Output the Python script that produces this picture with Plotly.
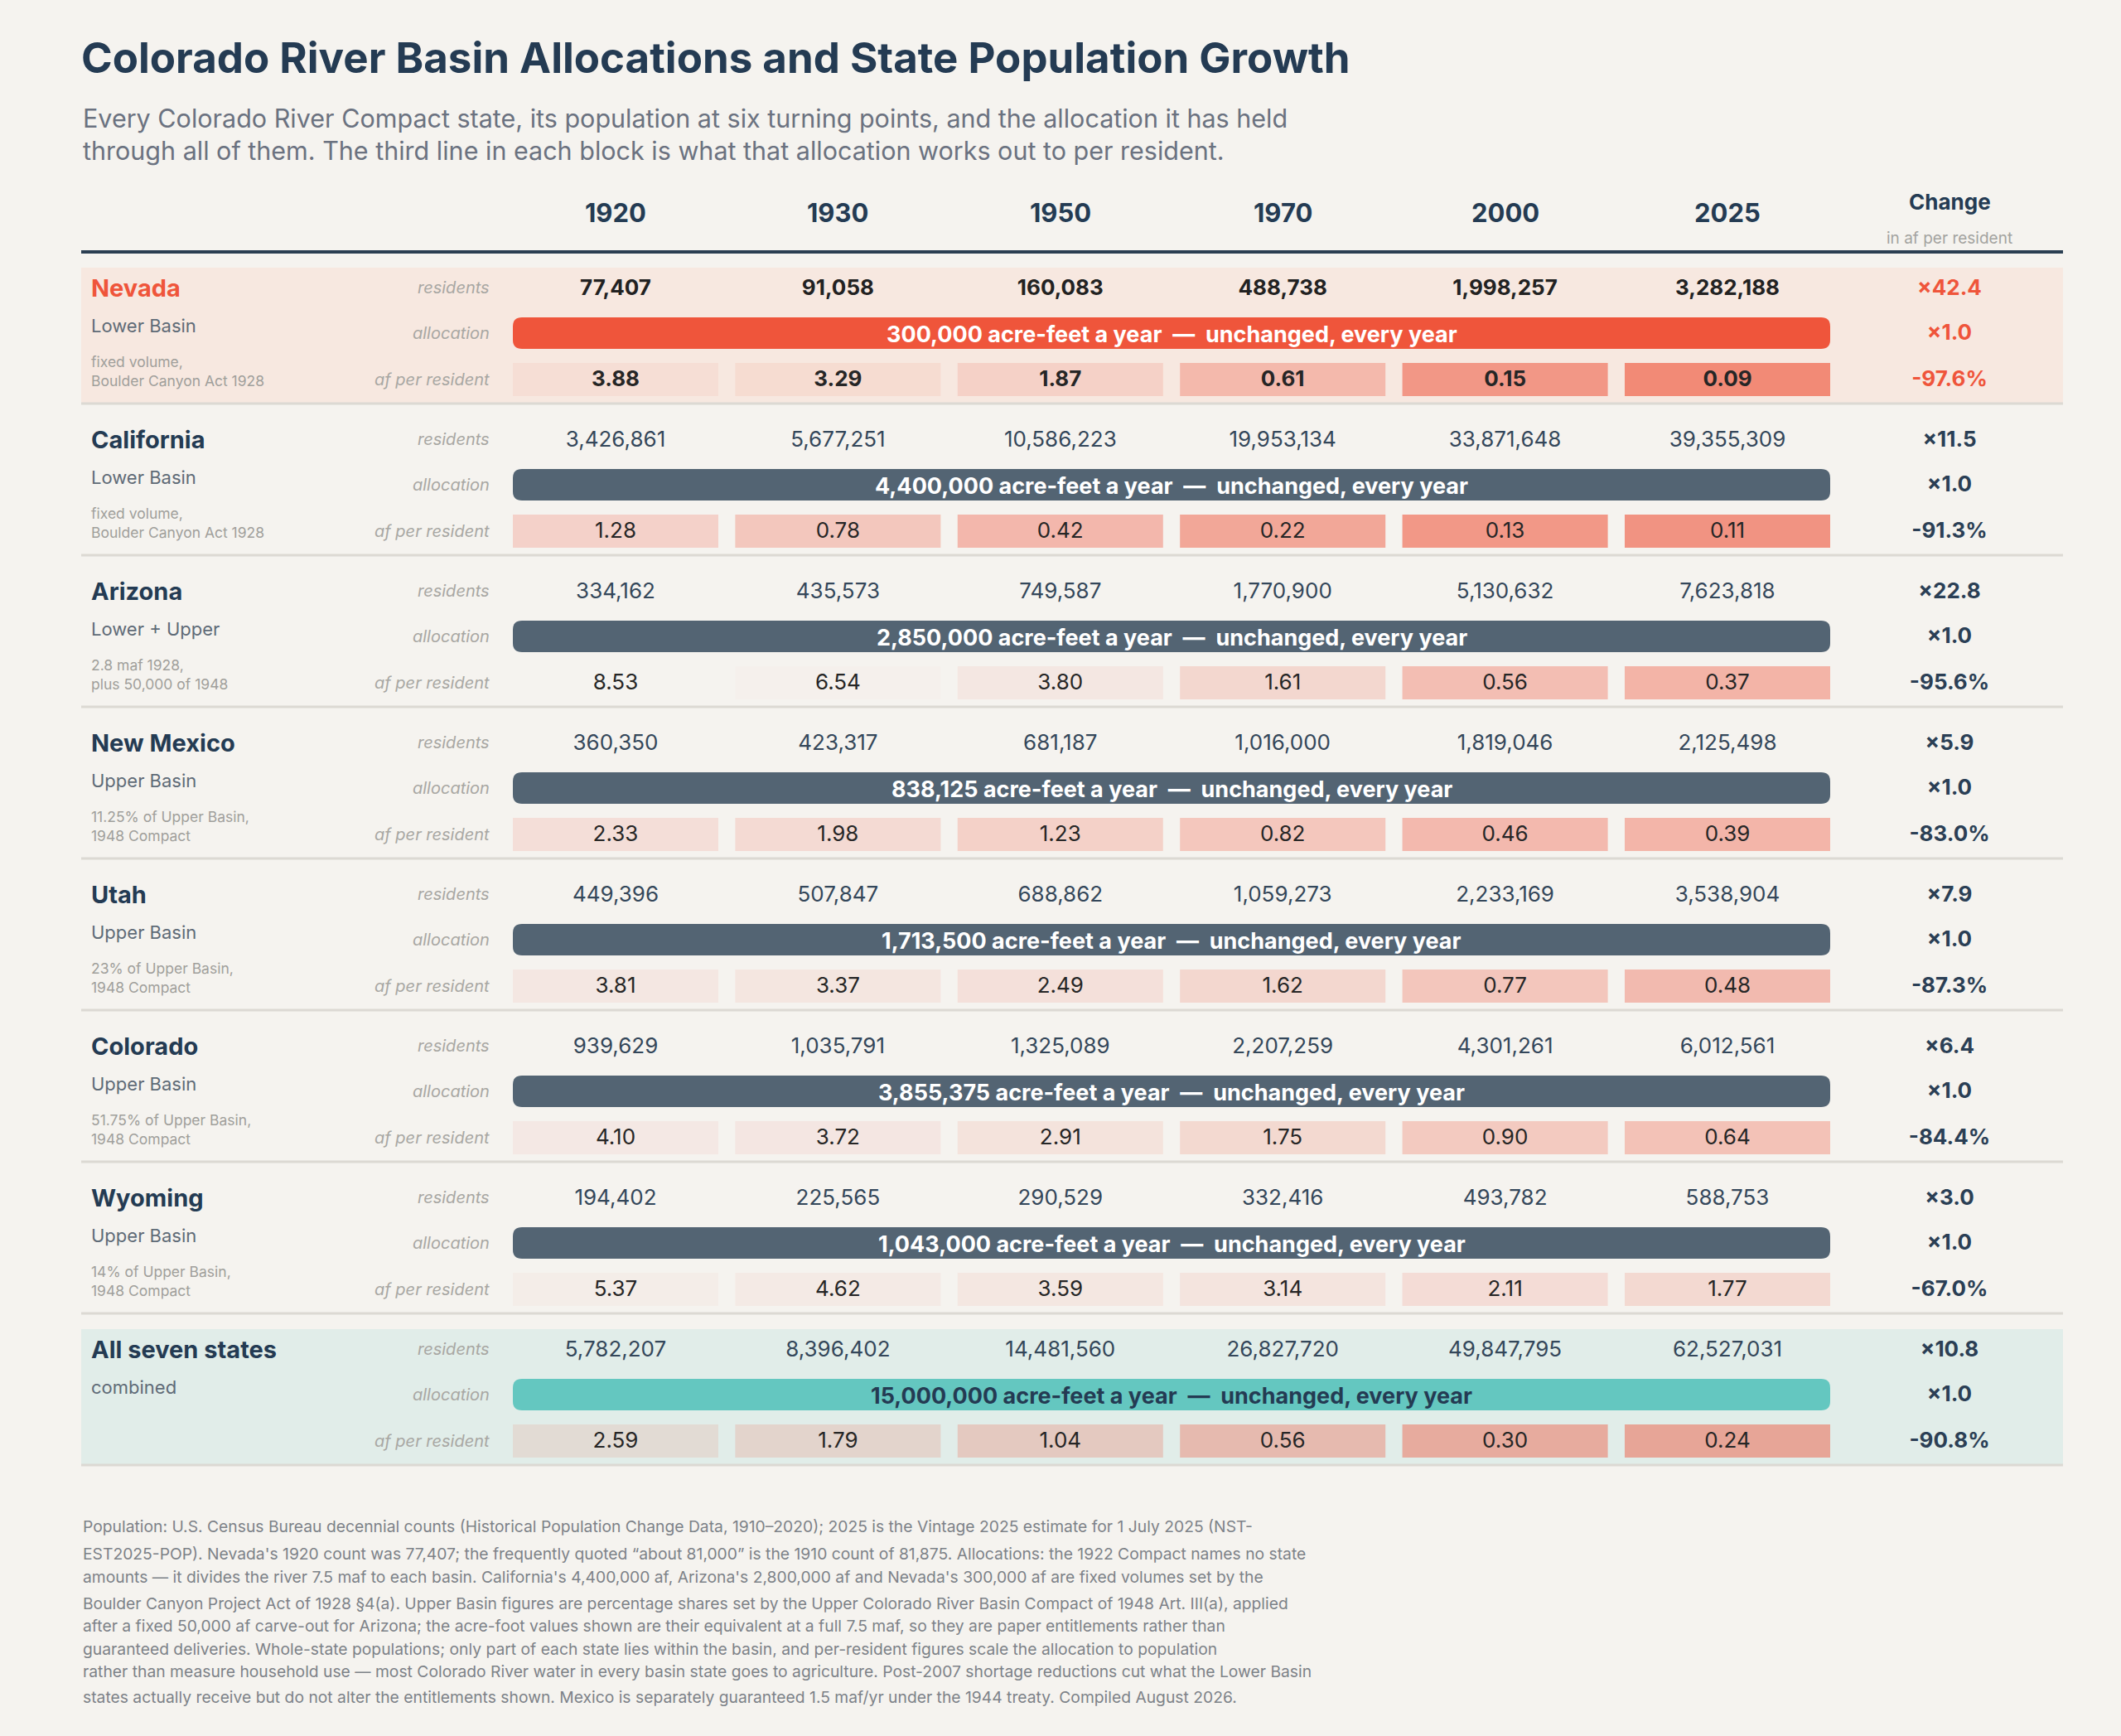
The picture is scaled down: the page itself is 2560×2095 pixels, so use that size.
import math
import plotly.graph_objects as go

years = [1920, 1930, 1950, 1970, 2000, 2025]
states = ["Nevada", "California", "Arizona", "New Mexico", "Utah", "Colorado", "Wyoming", "All seven states"]
basins = ["Lower Basin", "Lower Basin", "Lower + Upper", "Upper Basin", "Upper Basin", "Upper Basin", "Upper Basin", "combined"]
notes = [
    ["fixed volume,", "Boulder Canyon Act 1928"],
    ["fixed volume,", "Boulder Canyon Act 1928"],
    ["2.8 maf 1928,", "plus 50,000 of 1948"],
    ["11.25% of Upper Basin,", "1948 Compact"],
    ["23% of Upper Basin,", "1948 Compact"],
    ["51.75% of Upper Basin,", "1948 Compact"],
    ["14% of Upper Basin,", "1948 Compact"],
    [],
]
residents = [
    [77407, 91058, 160083, 488738, 1998257, 3282188],
    [3426861, 5677251, 10586223, 19953134, 33871648, 39355309],
    [334162, 435573, 749587, 1770900, 5130632, 7623818],
    [360350, 423317, 681187, 1016000, 1819046, 2125498],
    [449396, 507847, 688862, 1059273, 2233169, 3538904],
    [939629, 1035791, 1325089, 2207259, 4301261, 6012561],
    [194402, 225565, 290529, 332416, 493782, 588753],
    [5782207, 8396402, 14481560, 26827720, 49847795, 62527031],
]
allocations = [300000, 4400000, 2850000, 838125, 1713500, 3855375, 1043000, 15000000]
af_per_resident = [
    [3.88, 3.29, 1.87, 0.61, 0.15, 0.09],
    [1.28, 0.78, 0.42, 0.22, 0.13, 0.11],
    [8.53, 6.54, 3.80, 1.61, 0.56, 0.37],
    [2.33, 1.98, 1.23, 0.82, 0.46, 0.39],
    [3.81, 3.37, 2.49, 1.62, 0.77, 0.48],
    [4.10, 3.72, 2.91, 1.75, 0.90, 0.64],
    [5.37, 4.62, 3.59, 3.14, 2.11, 1.77],
    [2.59, 1.79, 1.04, 0.56, 0.30, 0.24],
]
pop_change = [42.4, 11.5, 22.8, 5.9, 7.9, 6.4, 3.0, 10.8]
alloc_change = [1.0, 1.0, 1.0, 1.0, 1.0, 1.0, 1.0, 1.0]
per_res_change = [-97.6, -91.3, -95.6, -83.0, -87.3, -84.4, -67.0, -90.8]

title = "Colorado River Basin Allocations and State Population Growth"
subtitle = [
    "Every Colorado River Compact state, its population at six turning points, and the allocation it has held",
    "through all of them. The third line in each block is what that allocation works out to per resident.",
]
footer = [
    "Population: U.S. Census Bureau decennial counts (Historical Population Change Data, 1910–2020); 2025 is the Vintage 2025 estimate for 1 July 2025 (NST-",
    "EST2025-POP). Nevada's 1920 count was 77,407; the frequently quoted “about 81,000” is the 1910 count of 81,875. Allocations: the 1922 Compact names no state",
    "amounts — it divides the river 7.5 maf to each basin. California's 4,400,000 af, Arizona's 2,800,000 af and Nevada's 300,000 af are fixed volumes set by the",
    "Boulder Canyon Project Act of 1928 §4(a). Upper Basin figures are percentage shares set by the Upper Colorado River Basin Compact of 1948 Art. III(a), applied",
    "after a fixed 50,000 af carve-out for Arizona; the acre-foot values shown are their equivalent at a full 7.5 maf, so they are paper entitlements rather than",
    "guaranteed deliveries. Whole-state populations; only part of each state lies within the basin, and per-resident figures scale the allocation to population",
    "rather than measure household use — most Colorado River water in every basin state goes to agriculture. Post-2007 shortage reductions cut what the Lower Basin",
    "states actually receive but do not alter the entitlements shown. Mexico is separately guaranteed 1.5 maf/yr under the 1944 treaty. Compiled August 2026.",
]

# --- styling ---
W, H = 2560, 2095
FONT = "Inter"
BG = "#F5F3EF"
NAVY = "#243B53"
CORAL = "#EF553B"
SLATE = "#536473"
TEAL = "#64C7C0"
HILITE = {0: "#F7E8E0", 7: "#E1EDE9"}
BAR_COL = [CORAL] + [SLATE] * 6 + [TEAL]

X_LEFT, X_RIGHT = 98, 2490
COL_X0, COL_STEP = 743, 268.4
CHANGE_X = 2353
CELL_W, CELL_H = 248, 40
BAR_H = 38
BLOCK_TOP, BLOCK_H = 304, 183
OFF_RES, OFF_ALLOC, OFF_PER = 45, 98, 154

col_x = [COL_X0 + i * COL_STEP for i in range(len(years))]


def cell_alpha(v):
    # heavier tint for smaller per-resident shares (log scale)
    d = max(0.0, 2.15 - math.log(v))
    return min(0.7, 0.092 * d ** 1.29)


def rrect(x0, y0, x1, y1, r):
    return (f"M{x0 + r},{y0} L{x1 - r},{y0} Q{x1},{y0} {x1},{y0 + r} L{x1},{y1 - r} "
            f"Q{x1},{y1} {x1 - r},{y1} L{x0 + r},{y1} Q{x0},{y1} {x0},{y1 - r} "
            f"L{x0},{y0 + r} Q{x0},{y0} {x0 + r},{y0} Z")


fig = go.Figure()
shapes = []
annotations = []


def note(x, y, text, size, color, anchor="left", bold=False, italic=False):
    font = dict(family=FONT, size=size, color=color)
    if bold:
        font["weight"] = 700
    if italic:
        font["style"] = "italic"
    annotations.append(dict(x=x, y=y, xref="x", yref="y", text=text, showarrow=False,
                            xanchor=anchor, yanchor="middle", font=font))


# title block
note(X_LEFT - 2, 69, title, 51, NAVY, bold=True)
for i, line in enumerate(subtitle):
    note(X_LEFT, 142 + 39 * i, line, 30.5, "#6B7280")

# column headers
for x, yr in zip(col_x, years):
    note(x, 256, str(yr), 31, NAVY, anchor="center", bold=True)
note(CHANGE_X, 243, "Change", 26, NAVY, anchor="center", bold=True)
note(CHANGE_X, 287, "in af per resident", 19, "#A3A3A0", anchor="center")
shapes.append(dict(type="line", x0=X_LEFT, x1=X_RIGHT, y0=304, y1=304,
                   line=dict(color="#2B3F52", width=4)))

cell_x, cell_base, cell_col = [], [], []
for b, name in enumerate(states):
    top = BLOCK_TOP + b * BLOCK_H
    y_res, y_alloc, y_per = top + OFF_RES, top + OFF_ALLOC, top + OFF_PER
    if b in HILITE:
        shapes.append(dict(type="rect", x0=X_LEFT, x1=X_RIGHT, y0=top + 19, y1=top + BLOCK_H,
                           fillcolor=HILITE[b], line=dict(width=0), layer="below"))
    shapes.append(dict(type="line", x0=X_LEFT, x1=X_RIGHT, y0=top + BLOCK_H, y1=top + BLOCK_H,
                       line=dict(color="#DCD9D3", width=3)))

    # left labels
    note(108, top + 43, name, 29, CORAL if b == 0 else NAVY, bold=True)
    note(108, top + 89, basins[b], 22, "#5F6B77")
    for k, line in enumerate(notes[b]):
        note(108, top + 132 + 23 * k, line, 17.5, "#A09F9B")
    for y, lab in [(top + 43, "residents"), (y_alloc, "allocation"), (y_per, "af per resident")]:
        note(593, y, lab, 20, "#A8A7A3", anchor="right", italic=True)

    # allocation band
    x0 = col_x[0] - CELL_W / 2
    x1 = col_x[-1] + CELL_W / 2
    shapes.append(dict(type="path", path=rrect(x0, y_alloc - BAR_H / 2, x1, y_alloc + BAR_H / 2, 11),
                       fillcolor=BAR_COL[b], line=dict(width=0), layer="above"))
    alloc_txt = f"{allocations[b]:,} acre-feet a year\u00a0\u00a0—\u00a0\u00a0unchanged, every year"
    note((x0 + x1) / 2, y_alloc + 1, alloc_txt, 27, NAVY if b == 7 else "white", anchor="center", bold=True)

    for i, v in enumerate(af_per_resident[b]):
        cell_x.append(col_x[i])
        cell_base.append(y_per - CELL_H / 2)
        cell_col.append(f"rgba(239,87,62,{cell_alpha(v):.3f})")

    bold = b == 0
    fig.add_trace(go.Scatter(
        x=col_x, y=[y_res] * len(years), mode="text",
        text=[(f"<b>{v:,}</b>" if bold else f"{v:,}") for v in residents[b]],
        textfont=dict(family=FONT, size=26, color="#222222" if bold else "#34475A"),
        hoverinfo="skip"))
    fig.add_trace(go.Scatter(
        x=col_x, y=[y_per + 1] * len(years), mode="text",
        text=[(f"<b>{v:.2f}</b>" if bold else f"{v:.2f}") for v in af_per_resident[b]],
        textfont=dict(family=FONT, size=26, color="#262626"),
        hoverinfo="skip"))
    fig.add_trace(go.Scatter(
        x=[CHANGE_X] * 3, y=[y_res, y_alloc + 1, y_per + 1], mode="text",
        text=[f"<b>×{pop_change[b]:.1f}</b>", f"<b>×{alloc_change[b]:.1f}</b>",
              f"<b>{per_res_change[b]:.1f}%</b>"],
        textfont=dict(family=FONT, size=26, color=CORAL if b == 0 else "#2B3F55"),
        hoverinfo="skip"))

# per-resident cells as bars, tinted by value
fig.add_trace(go.Bar(x=cell_x, y=[CELL_H] * len(cell_x), base=cell_base, width=CELL_W,
                     marker=dict(color=cell_col, line=dict(width=0)), hoverinfo="skip"))
fig.data = (fig.data[-1],) + fig.data[:-1]

for i, line in enumerate(footer):
    note(X_LEFT, [1842, 1875, 1903, 1935, 1962, 1990, 2017, 2048][i], line, 19.3, "#7D8288")

fig.update_layout(
    width=W, height=H, margin=dict(l=0, r=0, t=0, b=0),
    paper_bgcolor=BG, plot_bgcolor=BG, showlegend=False, barmode="overlay",
    xaxis=dict(range=[0, W], visible=False, fixedrange=True),
    yaxis=dict(range=[H, 0], visible=False, fixedrange=True),
    shapes=shapes, annotations=annotations,
)
fig.write_html("out.html", config={"displayModeBar": False},
               post_script="document.body.style.margin='0';")
